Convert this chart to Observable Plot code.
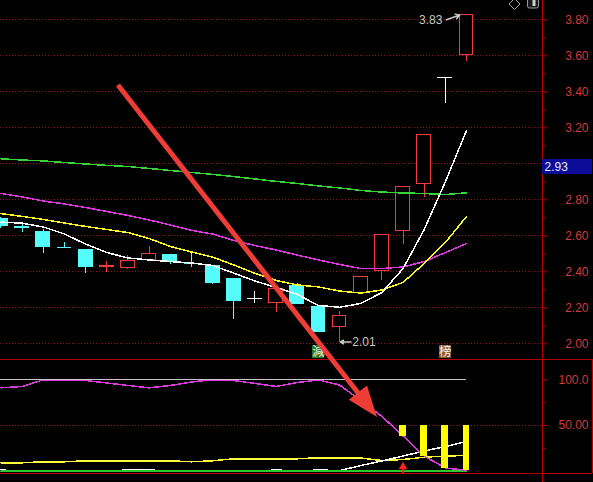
<!DOCTYPE html>
<html>
<head>
<meta charset="utf-8">
<script src="https://cdn.jsdelivr.net/npm/d3@7"></script>
<script src="https://cdn.jsdelivr.net/npm/@observablehq/plot@0.6"></script>
<style>
  html, body { margin: 0; padding: 0; background: #000; }
  #chart { position: relative; width: 593px; height: 482px; overflow: hidden; background: #000; }
  #chart > svg { position: absolute; left: 0; }
</style>
</head>
<body>
<div id="chart"></div>
<script>
// ---- daily bars (oldest first) ----
const open  = [2.696, 2.652, 2.624, 2.537, 2.524, 2.424, 2.418, 2.463, 2.496, 2.447, 2.435, 2.363, 2.253, 2.224, 2.324, 2.207, 2.091, 2.279, 2.402, 2.624, 2.885, 3.48, 3.60];
const close = [2.652, 2.638, 2.535, 2.535, 2.424, 2.435, 2.463, 2.502, 2.452, 2.445, 2.335, 2.235, 2.253, 2.307, 2.218, 2.063, 2.157, 2.374, 2.607, 2.874, 3.163, 3.48, 3.83];
const high  = [2.700, 2.668, 2.635, 2.563, 2.524, 2.457, 2.491, 2.541, 2.496, 2.502, 2.435, 2.363, 2.291, 2.307, 2.335, 2.207, 2.179, 2.374, 2.607, 2.874, 3.163, 3.48, 3.83];
const low   = [2.640, 2.618, 2.502, 2.530, 2.391, 2.396, 2.413, 2.463, 2.441, 2.424, 2.330, 2.135, 2.224, 2.174, 2.218, 2.063, 2.010, 2.279, 2.352, 2.552, 2.813, 3.335, 3.57];

// ---- moving averages ----
const ma5  = [2.676, 2.670, 2.649, 2.610, 2.554, 2.507, 2.477, 2.466, 2.457, 2.449, 2.435, 2.393, 2.349, 2.313, 2.274, 2.213, 2.203, 2.224, 2.285, 2.418, 2.635, 2.900, 3.185];
const ma10 = [2.723, 2.708, 2.691, 2.671, 2.652, 2.635, 2.618, 2.585, 2.541, 2.510, 2.482, 2.438, 2.391, 2.352, 2.327, 2.316, 2.293, 2.282, 2.299, 2.341, 2.446, 2.563, 2.707];
const ma20 = [2.835, 2.816, 2.793, 2.777, 2.757, 2.735, 2.713, 2.688, 2.660, 2.630, 2.610, 2.574, 2.546, 2.521, 2.493, 2.466, 2.441, 2.418, 2.418, 2.427, 2.457, 2.507, 2.557];
const ma60 = [3.028, 3.021, 3.016, 3.007, 2.999, 2.991, 2.985, 2.974, 2.963, 2.952, 2.941, 2.929, 2.916, 2.902, 2.891, 2.877, 2.866, 2.852, 2.843, 2.838, 2.835, 2.829, 2.839];

// ---- oscillator panel ----
const oscMain   = [91.2, 92.7, 100, 100, 99.2, 96.5, 93.8, 91.2, 93.8, 97.6, 100, 99.2, 96.0, 92.7, 97.0, 99.8, 94.3, 77.3, 60.0, 38.5, 16.5, 3.5, 1.0];
const oscYellow = [9.2, 9.2, 10.3, 10.3, 11.4, 11.4, 11.4, 11.4, 11.4, 10.3, 11.4, 13.6, 13.6, 13.6, 13.6, 14.7, 14.7, 14.4, 11.7, 12.8, 15.3, 16.6, 17.2];
const oscWhite  = [1.4, 0, 0, 0, 0, 0, 1.4, 1.4, 0, 0, 0, 0, 0, 1.4, 0, 1.4, 0.6, 6.2, 11.2, 16.6, 22.1, 27.0, 32.5];
const oscGreen  = [0, 0, 0, 0, 0, 0, 0, 0, 0, 0, 0, 0, 0, 0, 0, 0, 0, 0, 0, 0, 0, 0, 0];
const oscCeiling = 100;
const oscBarTop = 50;
const buySignals = [19];

// ---- ticks, tags and signal labels ----
const priceTicks = [2.0, 2.2, 2.4, 2.6, 2.8, 3.0, 3.2, 3.4, 3.6, 3.8];
const priceMinor = [2.1, 2.3, 2.5, 2.7, 2.9, 3.1, 3.3, 3.5, 3.7];
const oscTicks = [50, 100];
const oscMinor = [25, 75];
const lastPrice = 2.93;
const signalDays = [15, 21];
const signalText = ["減", "榜"];

// ---- layout ----
const W = 593, MAIN_H = 359, SUB_H = 123, AXIS_W = 51;
const xDomain = [-0.0236, 25.59];      // bar slots across the plotting area
const xBoxEdge = 27.953;               // right edge of the price-axis strip
const priceDomain = [1.9128, 3.9072];
const oscDomain = [-12.36, 122.2];
const oscFloor = -2;
const HW = 0.35;                        // half body width, in bar slots

const UP = "#f23c3c", DOWN = "#54fcfc", FLAT = "#ffffff";
const AXIS = "#b40000", LABEL = "#d43a3a", GRID = "#8a1a1a", NOTE = "#c8c8c8";
const FONT = "'Liberation Sans', Arial, sans-serif";
const CRISP = {shapeRendering: "crispEdges"};

const candles = open.map((o, i) => ({day: i, open: o, close: close[i], high: high[i], low: low[i]}));
const isCross = c => Math.abs(c.close - c.open) < 0.004;
const tone = c => (c.close - c.open > 0.004 ? UP : c.close < c.open ? DOWN : FLAT);
const series = arr => arr.map((v, i) => ({day: i, v}));

const peak = d3.greatest(candles, c => c.high);
const trough = d3.least(candles, c => c.low);
const signals = signalDays.map((d, k) => ({day: d, text: signalText[k]}));
const signalFill = ["#1f7a24", "#8e5a2c"];

const svgStyle = {background: "black", color: "white", fontFamily: FONT, fontSize: "12px", overflow: "visible"};
const fmtOsc = d => (d >= 100 ? d.toFixed(1) : d.toFixed(2));

const main = Plot.plot({
  width: W, height: MAIN_H,
  marginTop: 0, marginBottom: 0, marginLeft: 0, marginRight: AXIS_W,
  x: {domain: xDomain, axis: null},
  y: {domain: priceDomain},
  style: svgStyle,
  marks: [
    Plot.ruleY(priceTicks, {stroke: GRID, strokeDasharray: "1,2", ...CRISP}),
    // candles
    Plot.ruleX(candles, {x: "day", y1: "low", y2: "high", stroke: tone, ...CRISP}),
    Plot.rect(candles.filter(c => !isCross(c) && c.close > c.open), {
      x1: c => c.day - HW, x2: c => c.day + HW, y1: "open", y2: "close",
      fill: "black", stroke: UP, inset: 0.5, ...CRISP
    }),
    Plot.rect(candles.filter(c => !isCross(c) && c.close < c.open), {
      x1: c => c.day - HW, x2: c => c.day + HW, y1: "open", y2: "close", fill: DOWN, ...CRISP
    }),
    Plot.ruleY(candles.filter(isCross), {y: "close", x1: c => c.day - HW, x2: c => c.day + HW, stroke: tone, ...CRISP}),
    // moving averages
    Plot.line(series(ma60), {x: "day", y: "v", stroke: "#36d436", ...CRISP}),
    Plot.line(series(ma20), {x: "day", y: "v", stroke: "#e236e2", ...CRISP}),
    Plot.line(series(ma10), {x: "day", y: "v", stroke: "#ffff28", ...CRISP}),
    Plot.line(series(ma5),  {x: "day", y: "v", stroke: "#ffffff", ...CRISP}),
    // high / low notes
    Plot.text([peak], {x: d => d.day - 1.14, y: d => d.high - 0.03, text: d => d.high.toFixed(2), textAnchor: "end", fill: NOTE, fontSize: 12}),
    Plot.arrow([peak], {x1: d => d.day - 0.95, y1: d => d.high - 0.03, x2: d => d.day - 0.32, y2: d => d.high - 0.003, stroke: NOTE, headLength: 5}),
    Plot.arrow([trough], {x1: d => d.day + 0.54, y1: "low", x2: d => d.day + 0.04, y2: "low", stroke: NOTE, headLength: 5}),
    Plot.text([trough], {x: d => d.day + 0.6, y: "low", text: d => d.low.toFixed(2), textAnchor: "start", fill: NOTE, fontSize: 12}),
    // signal badges
    Plot.rect(signals, {x1: d => d.day - 0.3, x2: d => d.day + 0.3, y1: 1.918, y2: 1.992, fill: (d, i) => signalFill[i], ...CRISP}),
    Plot.text(signals, {x: "day", y: 1.955, text: "text", fill: "#f2f2f2", fontSize: 12.5, fontFamily: "'Noto Sans CJK SC', sans-serif"}),
    // price axis
    Plot.ruleX([xDomain[1]], {stroke: AXIS, ...CRISP}),
    Plot.axisY({anchor: "right", ticks: priceTicks, tickSize: 5, tickPadding: 41, textAnchor: "end",
      tickFormat: d => d.toFixed(2), stroke: AXIS, fill: LABEL, fontSize: 12, label: null}),
    Plot.axisY({anchor: "right", ticks: priceMinor, tickSize: 3, tickFormat: () => "", stroke: AXIS, label: null}),
    // last price tag
    Plot.rect([lastPrice], {x1: xDomain[1], x2: xBoxEdge, y1: d => d + 0.01, y2: d => d + 0.094, fill: "#0c0c98", ...CRISP}),
    Plot.text([lastPrice], {x: xDomain[1], y: d => d + 0.052, text: d => d.toFixed(2), textAnchor: "start", dx: 2, fill: "#e6e6ff", fontSize: 12})
  ]
});

const bars = oscMain.map((v, i) => ({day: i, v})).filter(d => d.v < oscBarTop);

const sub = Plot.plot({
  width: W, height: SUB_H,
  marginTop: 0, marginBottom: 0, marginLeft: 0, marginRight: AXIS_W,
  x: {domain: xDomain, axis: null},
  y: {domain: oscDomain},
  style: svgStyle,
  marks: [
    Plot.ruleY([oscBarTop], {stroke: GRID, strokeDasharray: "1,2", ...CRISP}),
    Plot.line(series(oscYellow), {x: "day", y: "v", stroke: "#ffff3c", ...CRISP}),
    Plot.line(series(oscWhite),  {x: "day", y: "v", stroke: "#ffffff", ...CRISP}),
    Plot.line(series(oscGreen),  {x: "day", y: "v", stroke: "#2ec82e", ...CRISP}),
    Plot.line(series(oscMain),   {x: "day", y: "v", stroke: "#dc3cdc", ...CRISP}),
    Plot.ruleY([oscCeiling], {x1: xDomain[0], x2: oscMain.length - 1, stroke: "#c8c8c8", ...CRISP}),
    Plot.rect(bars, {x1: d => d.day - 0.16, x2: d => d.day + 0.16, y1: oscBarTop, y2: "v", fill: "#ffff00", ...CRISP}),
    Plot.ruleX(buySignals, {x: d => d, y1: -2.8, y2: 4.5, stroke: "#ff2020", strokeWidth: 2}),
    Plot.dot(buySignals, {x: d => d, y: 4.8, symbol: "triangle", r: 3.2, fill: "#ff2020"}),
    // panel frame and axis
    Plot.ruleY([oscDomain[1], oscFloor], {x1: xDomain[0], x2: xBoxEdge, stroke: AXIS, ...CRISP}),
    Plot.ruleX([xDomain[1]], {stroke: AXIS, ...CRISP}),
    Plot.ruleX([xBoxEdge], {y1: oscFloor, y2: oscDomain[1], stroke: AXIS, ...CRISP}),
    Plot.axisY({anchor: "right", ticks: oscTicks, tickSize: 5, tickPadding: 41, textAnchor: "end",
      tickFormat: fmtOsc, stroke: AXIS, fill: LABEL, fontSize: 12, label: null}),
    Plot.axisY({anchor: "right", ticks: oscMinor, tickSize: 3, tickFormat: () => "", stroke: AXIS, label: null})
  ]
});

const chart = document.getElementById("chart");
main.style.top = "0px";
sub.style.top = MAIN_H + "px";
chart.append(main, sub);

// ---- overlay: trend arrow across both panels, toolbar glyphs ----
const scaleFn = s => (s.apply ? v => s.apply(v) : d3.scaleLinear(s.domain, s.range));
const sx = scaleFn(main.scale("x"));
const syMain = scaleFn(main.scale("y"));
const sySub = scaleFn(sub.scale("y"));

const trendFrom = {day: 5.55, price: 3.435};
const trendTo = {day: 17.79, osc: 58.7};
const p0 = [sx(trendFrom.day), syMain(trendFrom.price)];
const p1 = [sx(trendTo.day), MAIN_H + sySub(trendTo.osc)];
const len = Math.hypot(p1[0] - p0[0], p1[1] - p0[1]);
const ux = (p1[0] - p0[0]) / len, uy = (p1[1] - p0[1]) / len;
const headLen = 31, headHalf = 11.5;
const base = [p1[0] - ux * headLen, p1[1] - uy * headLen];

const overlay = d3.create("svg")
  .attr("width", W).attr("height", 482)
  .style("top", "0px").style("pointer-events", "none");

const red = "#ee3d36";
overlay.append("line")
  .attr("x1", p0[0]).attr("y1", p0[1])
  .attr("x2", base[0] + ux * 2).attr("y2", base[1] + uy * 2)
  .attr("stroke", red).attr("stroke-width", 5);
overlay.append("polygon")
  .attr("points", [
    p1,
    [base[0] - uy * headHalf, base[1] + ux * headHalf],
    [base[0] + uy * headHalf, base[1] - ux * headHalf]
  ].map(p => p.join(",")).join(" "))
  .attr("fill", red);

// toolbar glyphs in the top-right corner
overlay.append("path")
  .attr("d", "M514.5,-1.5 L520,4 L514.5,9.5 L509,4 Z")
  .attr("fill", "none").attr("stroke", "#a8a8a8");
overlay.append("rect")
  .attr("x", 527.5).attr("y", -3.5).attr("width", 11).attr("height", 11.5).attr("rx", 2)
  .attr("fill", "#1a1a1a").attr("stroke", "#9a9a9a");
overlay.append("rect")
  .attr("x", 532.5).attr("y", -1).attr("width", 3).attr("height", 7)
  .attr("fill", "#d0d0d0");

chart.append(overlay.node());
</script>
</body>
</html>
